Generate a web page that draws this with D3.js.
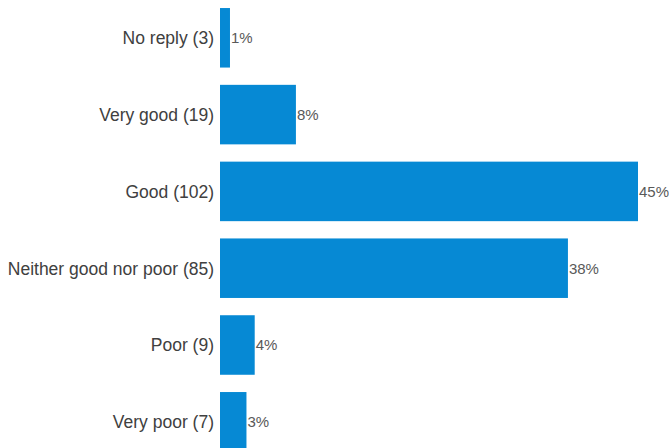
<!DOCTYPE html>
<html>
<head>
<meta charset="utf-8">
<script src="https://cdn.jsdelivr.net/npm/d3@7"></script>
<style>
  html, body { margin: 0; padding: 0; background: #ffffff; overflow: hidden; }
  svg { display: block; }
</style>
</head>
<body>
<svg id="chart" width="669" height="448"></svg>
<script>
const categories = ["No reply", "Very good", "Good", "Neither good nor poor", "Poor", "Very poor"];
const counts = [3, 19, 102, 85, 9, 7];
const pctLabels = ["1%", "8%", "45%", "38%", "4%", "3%"];

const data = categories.map((c, i) => ({ cat: c, count: counts[i], pct: pctLabels[i] }));

const svg = d3.select("#chart");
const left = 220;

const x = d3.scaleLinear().domain([0.58, 102]).range([left, 638]);
const y = d3.scaleBand().domain(categories).range([-0.6, 460.2]).paddingInner(0.225).paddingOuter(0.1125);

const fontFam = "'Liberation Sans', Arial, Helvetica, sans-serif";

svg.selectAll("rect.bar").data(data).enter().append("rect")
  .attr("class", "bar")
  .attr("x", left)
  .attr("y", d => y(d.cat))
  .attr("width", d => x(d.count) - left)
  .attr("height", y.bandwidth())
  .attr("fill", "#0689d4");

svg.selectAll("text.cat").data(data).enter().append("text")
  .attr("class", "cat")
  .attr("x", left - 6)
  .attr("y", d => y(d.cat) + y.bandwidth() / 2)
  .attr("dy", "0.36em")
  .attr("text-anchor", "end")
  .attr("font-family", fontFam)
  .attr("font-size", "17.5px")
  .attr("fill", "#404040")
  .text(d => `${d.cat} (${d.count})`);

svg.selectAll("text.pct").data(data).enter().append("text")
  .attr("class", "pct")
  .attr("x", d => x(d.count) + 1)
  .attr("y", d => y(d.cat) + y.bandwidth() / 2)
  .attr("dy", "0.36em")
  .attr("text-anchor", "start")
  .attr("font-family", fontFam)
  .attr("font-size", "15px")
  .attr("fill", "#595959")
  .text(d => d.pct);
</script>
</body>
</html>
